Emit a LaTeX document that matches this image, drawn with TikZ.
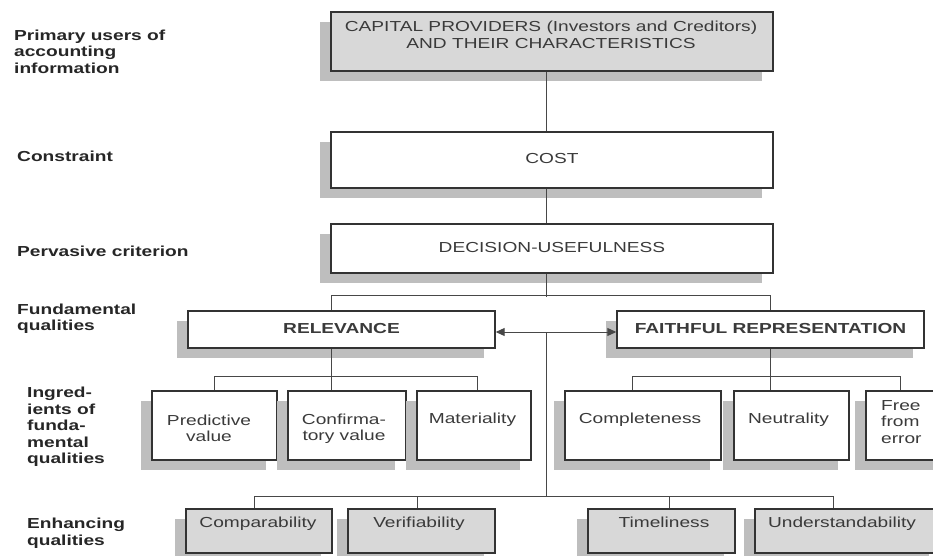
\documentclass[tikz,border=0pt]{standalone}
\usepackage{fontspec}
\setmainfont{Liberation Sans}[FakeStretch=1.32]
\usetikzlibrary{shadows,arrows.meta,calc}
\definecolor{edge}{HTML}{333333}
\definecolor{boxgray}{HTML}{D8D8D8}
\definecolor{shadowgray}{HTML}{BEBEBE}
\definecolor{txt}{HTML}{3A3A3A}
\tikzset{
 qbox/.style={draw=edge, line width=1.4pt, fill=white, inner sep=0pt,
   drop shadow={shadow xshift=-11pt, shadow yshift=-10pt, fill=shadowgray, opacity=1},
   text=txt, font=\fontsize{14.5}{16.5}\selectfont},
 gbox/.style={qbox, fill=boxgray},
 btxt/.style={text=txt, inner sep=0pt, align=center, font=\fontsize{14.5}{16.5}\selectfont},
 oneline/.style={text height=10.5pt, text depth=3pt},
 lab/.style={anchor=west, inner sep=0pt, align=left, font=\fontsize{14.5}{16.5}\selectfont\bfseries, text=black!85},
 conn/.style={draw=edge!90, line width=1pt},
 tip/.style={{Triangle[length=9pt,width=8pt]}-{Triangle[length=9pt,width=8pt]}},
}
\begin{document}
\begin{tikzpicture}[x=1pt,y=-1pt]
\useasboundingbox (0,0) rectangle (933,556);
\clip (0,0) rectangle (933,556);
\fill[white] (0,0) rectangle (933,556);

% left labels
\node[lab] (l1) at (14,51.5) {Primary users of\\accounting\\information};
\node[lab, oneline] (l2) at (17,158) {Constraint};
\node[lab, oneline] (l3) at (17,253) {Pervasive criterion};
\node[lab] (l4) at (17,318.5) {Fundamental\\qualities};
\node[lab] (l5) at (27,427) {Ingred-\\ients of\\funda-\\mental\\qualities};
\node[lab] (l6) at (27,533) {Enhancing\\qualities};

% boxes
\node[gbox, minimum width=442pt, minimum height=59pt] (cap) at (552,41.5) {};
\node[btxt] (capT) at (551,35) {CAPITAL PROVIDERS (Investors and Creditors)\\AND THEIR CHARACTERISTICS};
\node[qbox, oneline, minimum width=442pt, minimum height=56pt] (cost) at (552,160) {COST};
\node[qbox, oneline, minimum width=442pt, minimum height=49pt] (dec) at (552,248.5) {DECISION-USEFULNESS};
\node[qbox, oneline, minimum width=307pt, minimum height=37pt, font=\fontsize{14.5}{16.5}\selectfont\bfseries] (rel) at (341.5,329.5) {RELEVANCE};
\node[qbox, oneline, minimum width=307pt, minimum height=37pt, font=\fontsize{14.5}{16.5}\selectfont\bfseries] (fr) at (770.5,329.5) {FAITHFUL REPRESENTATION};

\node[qbox, minimum width=125pt, minimum height=69pt] (pred) at (214.5,425.5) {};
\node[qbox, minimum width=118pt, minimum height=69pt] (conf) at (347,425.5) {};
\node[qbox, minimum width=114pt, minimum height=69pt] (mat) at (474,425.5) {};
\node[qbox, minimum width=156pt, minimum height=69pt] (comp) at (643,425.5) {};
\node[qbox, minimum width=115pt, minimum height=69pt] (neut) at (791.5,425.5) {};
\node[qbox, minimum width=119pt, minimum height=69pt] (free) at (925.5,425.5) {};
\node[btxt] (predT) at (209,428.5) {Predictive\\value};
\node[btxt] (confT) at (344,428.5) {Confirma-\\tory value};
\node[btxt, oneline] (matT) at (472.5,420) {Materiality};
\node[btxt, oneline] (compT) at (640,420) {Completeness};
\node[btxt, oneline] (neutT) at (788.5,420) {Neutrality};
\node[btxt, anchor=west, align=left] (freeT) at (881,422) {Free\\from\\error};

\node[gbox, minimum width=146pt, minimum height=44pt] (compa) at (259,531) {};
\node[gbox, minimum width=147pt, minimum height=44pt] (verif) at (421.5,531) {};
\node[gbox, minimum width=147pt, minimum height=44pt] (time) at (661.5,531) {};
\node[gbox, minimum width=185pt, minimum height=44pt] (under) at (847.5,531) {};
\node[btxt, oneline] (compaT) at (258,524) {Comparability};
\node[btxt, oneline] (verifT) at (419,524) {Verifiability};
\node[btxt, oneline] (timeT) at (664,524) {Timeliness};
\node[btxt, oneline] (underT) at (842,524) {Understandability};

% connectors
\coordinate (hub) at (546,332);
\coordinate (eh) at (546,497);
\draw[conn] ([xshift=-6pt]cap.south) -- ([xshift=-6pt]cost.north);
\draw[conn] ([xshift=-6pt]cost.south) -- ([xshift=-6pt]dec.north);
\draw[conn] ([xshift=-6pt]dec.south) -- ++(0,23);
\draw[conn] ([xshift=-10.5pt]rel.north) -- ++(0,-15) -| (fr.north);
\draw[conn, tip] ([yshift=-2.5pt]rel.east) -- ([yshift=-2.5pt]fr.west);
\draw[conn] (hub) -- (eh);

\draw[conn] ([xshift=-10.5pt]rel.south) -- ([xshift=-16pt]conf.north);
\draw[conn] (pred.north) -- ++(0,-14) -| ([xshift=3pt]mat.north);

\draw[conn] (fr.south) -- (fr.south |- neut.north);
\draw[conn] ([xshift=-11pt]comp.north) -- ++(0,-14) -| ([xshift=35pt]free.north west);

\draw[conn] ([xshift=-5pt]compa.north) -- ++(0,-12) -| ([xshift=79pt]under.north west);
\draw[conn] ([xshift=-4.5pt]verif.north) -- ++(0,-12);
\draw[conn] ([xshift=7.5pt]time.north) -- ++(0,-12);
\end{tikzpicture}
\end{document}
